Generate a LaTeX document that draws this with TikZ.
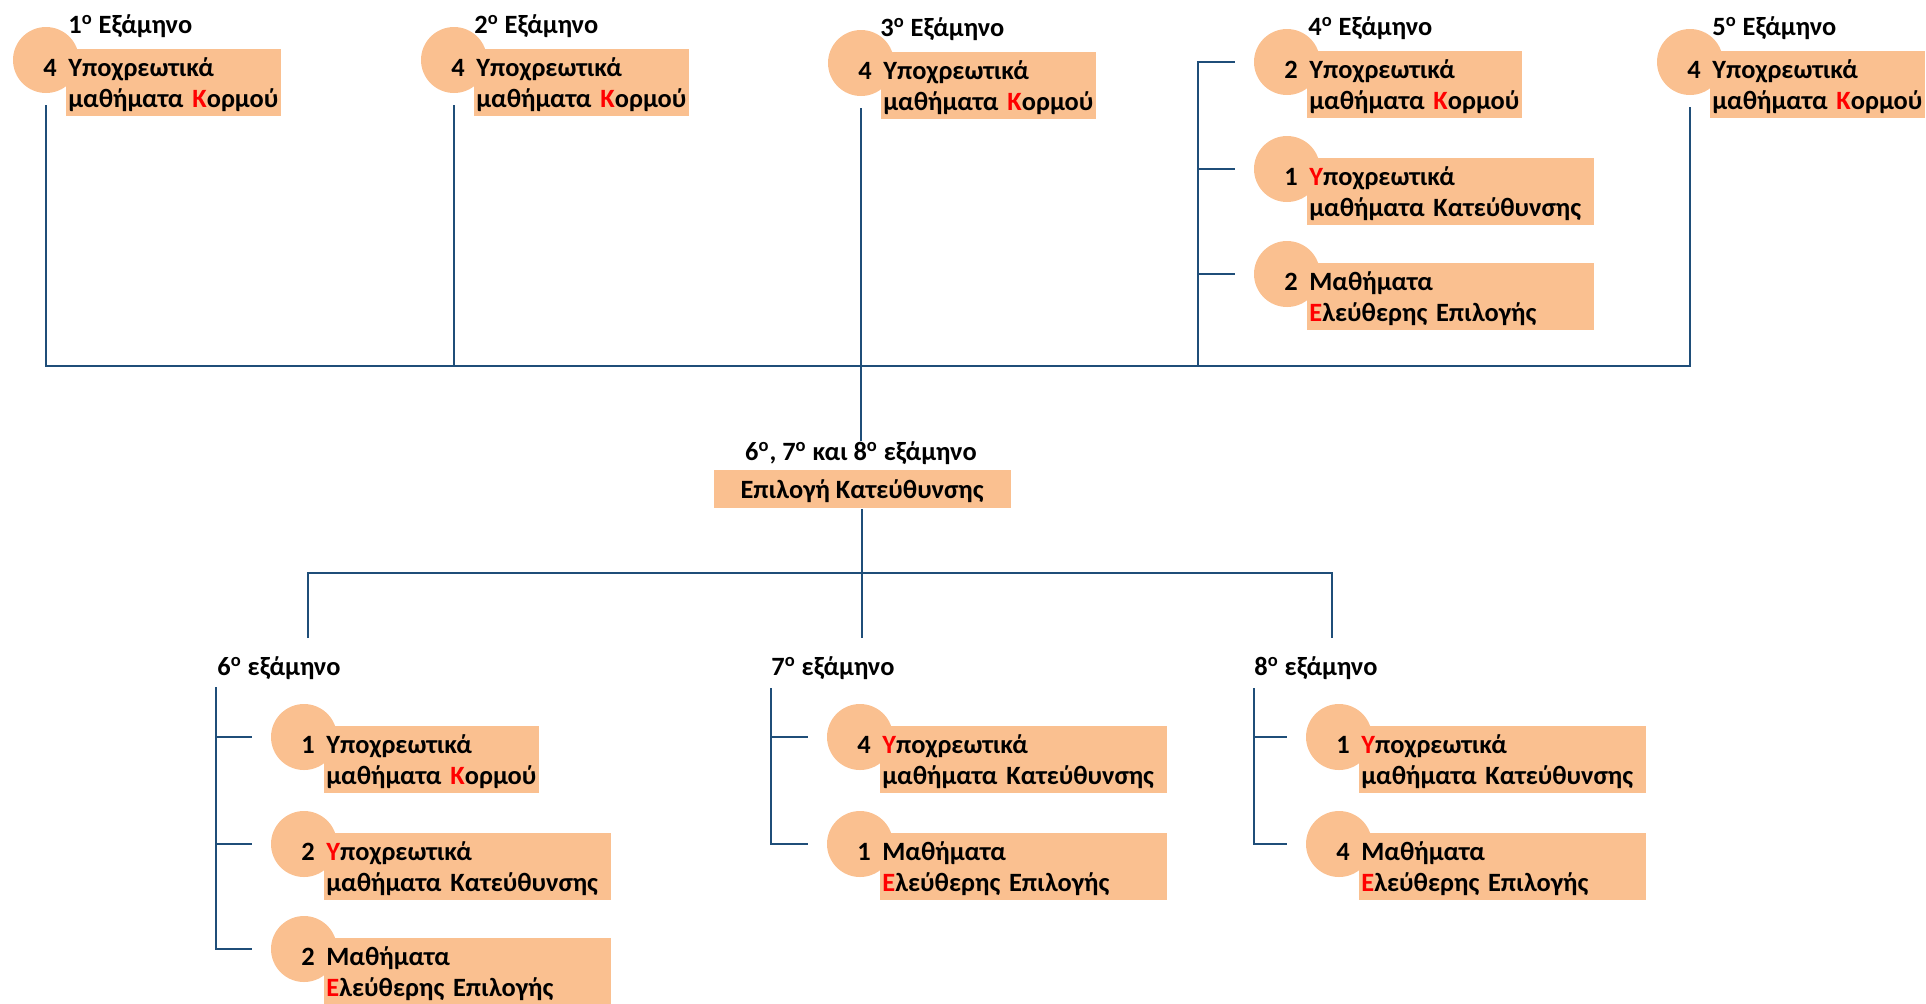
\documentclass[tikz,border=0pt]{standalone}
\usepackage{fontspec}
\setmainfont{Carlito}
\usetikzlibrary{calc}
\definecolor{peach}{HTML}{FAC090}
\definecolor{navy}{HTML}{1F4E79}
\newcommand{\boxfont}{\bfseries\fontsize{13.2pt}{15.5pt}\selectfont}
\tikzset{
  conn/.style={navy, line width=1.4pt},
  numcirc/.style={circle, fill=peach, minimum size=33pt, inner sep=0pt},
  numtxt/.style={anchor=base, inner sep=0pt, font=\boxfont},
  txtbox/.style={anchor=north west, fill=peach, align=left, inner xsep=1pt, inner ysep=0pt,
    text height=13.5pt, text depth=20pt, font=\boxfont},
  kbox/.style={txtbox, text width=105.5pt},
  lbox/.style={txtbox, text width=141.5pt},
  hdr/.style={anchor=base west, inner sep=0pt, font=\boxfont}
}
\begin{document}
\begin{tikzpicture}[x=0.5pt, y=-0.5pt]
\useasboundingbox (0,0) rectangle (1926,1003);
\coordinate(p1) at (66,49);
\coordinate(p2) at (474,49);
\coordinate(p3) at (881,52);
\coordinate(p4a) at (1307,51);
\coordinate(p4b) at (1307,158);
\coordinate(p4c) at (1307,263);
\coordinate(p5) at (1710,51);
\coordinate(p6a) at (324,726);
\coordinate(p6b) at (324,833);
\coordinate(p6c) at (324,938);
\coordinate(p7a) at (880,726);
\coordinate(p7b) at (880,833);
\coordinate(p8a) at (1359,726);
\coordinate(p8b) at (1359,833);
% top row
\node[hdr] (h1) at (68,33) {1\textsuperscript{o} Εξάμηνο};
\node[numcirc] (c1) at ($(p1)+(-20,11)$) {};
\node[numtxt] (n1) at ($(p1)+(-16,27)$) {4};
\node[kbox] (b1) at (p1) {Υποχρεωτικά\\μαθήματα~\textcolor{red}{Κ}ορμού};
\node[hdr] (h2) at (474,33) {2\textsuperscript{o} Εξάμηνο};
\node[numcirc] (c2) at ($(p2)+(-20,11)$) {};
\node[numtxt] (n2) at ($(p2)+(-16,27)$) {4};
\node[kbox] (b2) at (p2) {Υποχρεωτικά\\μαθήματα~\textcolor{red}{Κ}ορμού};
\node[hdr] (h3) at (880,36) {3\textsuperscript{o} Εξάμηνο};
\node[numcirc] (c3) at ($(p3)+(-20,11)$) {};
\node[numtxt] (n3) at ($(p3)+(-16,27)$) {4};
\node[kbox] (b3) at (p3) {Υποχρεωτικά\\μαθήματα~\textcolor{red}{Κ}ορμού};
\node[hdr] (h4) at (1308,35) {4\textsuperscript{o} Εξάμηνο};
\node[numcirc] (c4a) at ($(p4a)+(-20,11)$) {};
\node[numtxt] (n4a) at ($(p4a)+(-16,27)$) {2};
\node[kbox] (b4a) at (p4a) {Υποχρεωτικά\\μαθήματα~\textcolor{red}{Κ}ορμού};
\node[numcirc] (c4b) at ($(p4b)+(-20,11)$) {};
\node[numtxt] (n4b) at ($(p4b)+(-16,27)$) {1};
\node[lbox] (b4b) at (p4b) {\textcolor{red}{Υ}ποχρεωτικά\\μαθήματα~Κατεύθυνσης};
\node[numcirc] (c4c) at ($(p4c)+(-20,11)$) {};
\node[numtxt] (n4c) at ($(p4c)+(-16,27)$) {2};
\node[lbox] (b4c) at (p4c) {Μαθήματα\\\textcolor{red}{Ε}λεύθερης~Επιλογής};
\node[hdr] (h5) at (1712,35) {5\textsuperscript{o} Εξάμηνο};
\node[numcirc] (c5) at ($(p5)+(-20,11)$) {};
\node[numtxt] (n5) at ($(p5)+(-16,27)$) {4};
\node[kbox] (b5) at (p5) {Υποχρεωτικά\\μαθήματα~\textcolor{red}{Κ}ορμού};
% middle
\node[anchor=base, inner sep=0pt, font=\boxfont] (ttl) at (861,460) {6\textsuperscript{o}, 7\textsuperscript{o} και 8\textsuperscript{o} εξάμηνο};
\node[anchor=north, fill=peach, minimum width=148.5pt, inner ysep=0pt, text height=14pt, text depth=5pt, font=\boxfont] (sel) at (862,470) {Επιλογή Κατεύθυνσης};
% bottom row
\node[hdr] (h6) at (217,675) {6\textsuperscript{o} εξάμηνο};
\node[numcirc] (c6a) at ($(p6a)+(-20,11)$) {};
\node[numtxt] (n6a) at ($(p6a)+(-16,27)$) {1};
\node[kbox] (b6a) at (p6a) {Υποχρεωτικά\\μαθήματα~\textcolor{red}{Κ}ορμού};
\node[numcirc] (c6b) at ($(p6b)+(-20,11)$) {};
\node[numtxt] (n6b) at ($(p6b)+(-16,27)$) {2};
\node[lbox] (b6b) at (p6b) {\textcolor{red}{Υ}ποχρεωτικά\\μαθήματα~Κατεύθυνσης};
\node[numcirc] (c6c) at ($(p6c)+(-20,11)$) {};
\node[numtxt] (n6c) at ($(p6c)+(-16,27)$) {2};
\node[lbox] (b6c) at (p6c) {Μαθήματα\\\textcolor{red}{Ε}λεύθερης~Επιλογής};
\node[hdr] (h7) at (771,675) {7\textsuperscript{o} εξάμηνο};
\node[numcirc] (c7a) at ($(p7a)+(-20,11)$) {};
\node[numtxt] (n7a) at ($(p7a)+(-16,27)$) {4};
\node[lbox] (b7a) at (p7a) {\textcolor{red}{Υ}ποχρεωτικά\\μαθήματα~Κατεύθυνσης};
\node[numcirc] (c7b) at ($(p7b)+(-20,11)$) {};
\node[numtxt] (n7b) at ($(p7b)+(-16,27)$) {1};
\node[lbox] (b7b) at (p7b) {Μαθήματα\\\textcolor{red}{Ε}λεύθερης~Επιλογής};
\node[hdr] (h8) at (1254,675) {8\textsuperscript{o} εξάμηνο};
\node[numcirc] (c8a) at ($(p8a)+(-20,11)$) {};
\node[numtxt] (n8a) at ($(p8a)+(-16,27)$) {1};
\node[lbox] (b8a) at (p8a) {\textcolor{red}{Υ}ποχρεωτικά\\μαθήματα~Κατεύθυνσης};
\node[numcirc] (c8b) at ($(p8b)+(-20,11)$) {};
\node[numtxt] (n8b) at ($(p8b)+(-16,27)$) {4};
\node[lbox] (b8b) at (p8b) {Μαθήματα\\\textcolor{red}{Ε}λεύθερης~Επιλογής};
% connectors
\coordinate(hub) at (862,366);
\coordinate(v4) at (1198,366);
\coordinate(d6) at (308,638);
\coordinate(d8) at (1332,638);
\coordinate(v6) at (216,687);
\coordinate(v7) at (771,688);
\coordinate(v8) at (1254,688);
\draw[conn] ($(c1.south)+(0,12)$) -- (c1|-hub) -- (c5|-hub) -- ($(c5.south)+(0,12)$);
\draw[conn] ($(c2.south)+(0,12)$) -- (c2|-hub);
\draw[conn] ($(c3.south)+(0,12)$) -- (c3|-ttl.north);
\draw[conn] ($(c4a.west)+(-19,0)$) -| (v4);
\draw[conn] ($(c4b.west)+(-19,0)$) -- (v4|-c4b);
\draw[conn] ($(c4c.west)+(-19,0)$) -- (v4|-c4c);
\draw[conn] (sel.south) -- (sel.south|-d6);
\draw[conn] (d6) -- ++(0,-65) -| (d8);
\draw[conn] (v6) |- ($(c6c.west)+(-19,0)$);
\draw[conn] (v6|-c6a) -- ($(c6a.west)+(-19,0)$);
\draw[conn] (v6|-c6b) -- ($(c6b.west)+(-19,0)$);
\draw[conn] (v7) |- ($(c7b.west)+(-19,0)$);
\draw[conn] (v7|-c7a) -- ($(c7a.west)+(-19,0)$);
\draw[conn] (v8) |- ($(c8b.west)+(-19,0)$);
\draw[conn] (v8|-c8a) -- ($(c8a.west)+(-19,0)$);
\end{tikzpicture}
\end{document}
